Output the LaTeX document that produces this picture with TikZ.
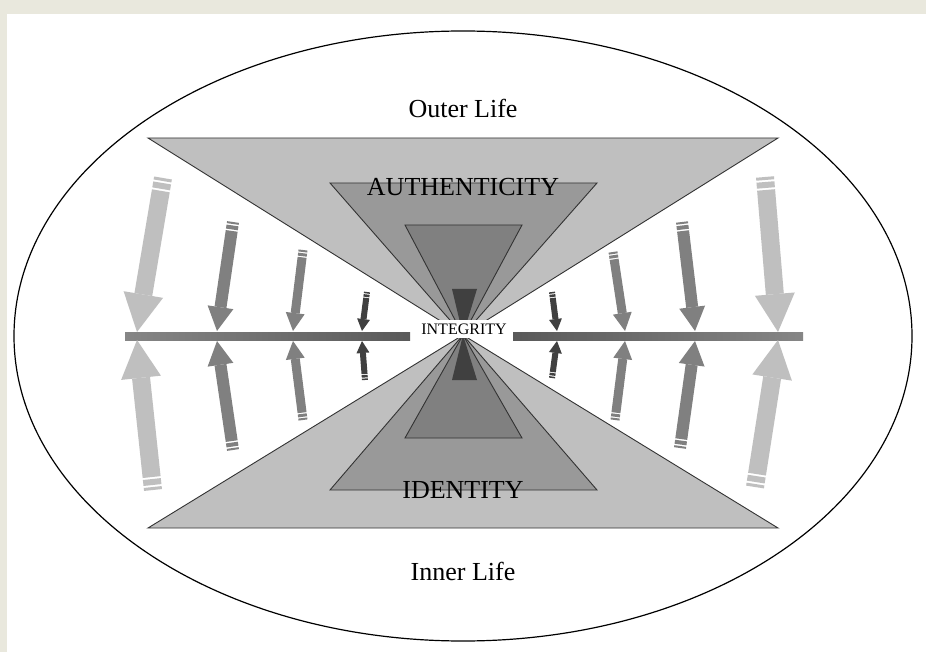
\documentclass[tikz,border=0pt]{standalone}
\usepackage{fontspec}
\setmainfont{Liberation Serif}
\usetikzlibrary{arrows.meta}
\definecolor{pagebg}{HTML}{E9E8DD}
\definecolor{lightgr}{gray}{0.75}
\definecolor{midgr}{gray}{0.6}
\definecolor{innergr}{gray}{0.5}
\definecolor{darkgr}{gray}{0.25}
\definecolor{edgegr}{gray}{0.2}
\begin{document}
\begin{tikzpicture}[x=1pt,y=-1pt,
  tri/.style={draw=edgegr, line width=0.9pt},
  word/.style={font=\fontsize{26}{30}\selectfont, inner sep=0pt},
  bigarr/.style={lightgr, line width=18pt, -{Triangle[width=40pt,length=38pt,line width=0pt]}, dash pattern=on 3pt off 2pt on 6pt off 2pt on 400pt},
  midarr/.style={innergr, line width=12pt, -{Triangle[width=26pt,length=24pt,line width=0pt]}, dash pattern=on 2pt off 1.5pt on 4pt off 1.5pt on 400pt},
  smallarr/.style={innergr, line width=9pt, -{Triangle[width=19pt,length=18pt,line width=0pt]}, dash pattern=on 2pt off 1.2pt on 3pt off 1.2pt on 400pt},
  tinyarr/.style={darkgr, line width=6pt, -{Triangle[width=13pt,length=12pt,line width=0pt]}, dash pattern=on 1.5pt off 1pt on 2.5pt off 1pt on 400pt}]
\useasboundingbox (0,0) rectangle (926,652);
\fill[pagebg] (0,0) rectangle (926,652);
\fill[white] (7,14) rectangle (926,652);

% outer ellipse
\draw[line width=1.2pt] (463,336) ellipse [x radius=449, y radius=305];

% cones
\coordinate (mid) at (463,335);
\filldraw[tri, fill=lightgr] (148,138) -- (778,138) -- (mid) -- cycle;
\filldraw[tri, fill=lightgr] (148,528) -- (778,528) -- (mid) -- cycle;
\filldraw[tri, fill=midgr] (330,183) -- (597,183) -- (mid) -- cycle;
\filldraw[tri, fill=midgr] (330,490) -- (597,490) -- (mid) -- cycle;
\filldraw[tri, fill=innergr] (405,225) -- (522,225) -- (mid) -- cycle;
\filldraw[tri, fill=innergr] (405,438) -- (522,438) -- (mid) -- cycle;
\fill[darkgr] (452,289) -- (477,289) -- (mid) -- cycle;
\fill[darkgr] (452,380) -- (477,380) -- (mid) -- cycle;

% horizon bars
\shade[left color=gray!95, right color=gray!70!black] (125,332) rectangle (410,340);
\shade[left color=gray!70!black, right color=gray!95] (513,332) rectangle (803,340);

% arrows pressing on the bar
\foreach \ax/\ay/\bx/\by/\kind in {
  163/178/137/332/bigarr, 153/490/137/340/bigarr,
  233/222/217/331/midarr, 233/450/217/341/midarr,
  303/250/293/331/smallarr, 303/420/293/341/smallarr,
  367/292/362/331/tinyarr, 365/380/362/341/tinyarr,
  552/292/557/331/tinyarr, 552/378/557/341/tinyarr,
  613/252/625/331/smallarr, 615/420/625/341/smallarr,
  682/222/695/331/midarr, 680/448/695/341/midarr,
  765/177/778/332/bigarr, 755/487/778/340/bigarr}
  \draw[\kind] (\ax,\ay) -- (\bx,\by);

% labels
\node[word] (outer) at (463,108) {Outer Life};
\node[word] (inner) at (463,571) {Inner Life};
\node[word] (auth) at (463,187) {AUTHENTICITY};
\node[word] (ident) at (463,490) {IDENTITY};
\node[fill=white, inner xsep=4pt, inner ysep=4pt, font=\fontsize{16}{18}\selectfont] (integ) at (464,329) {INTEGRITY};
\end{tikzpicture}
\end{document}
